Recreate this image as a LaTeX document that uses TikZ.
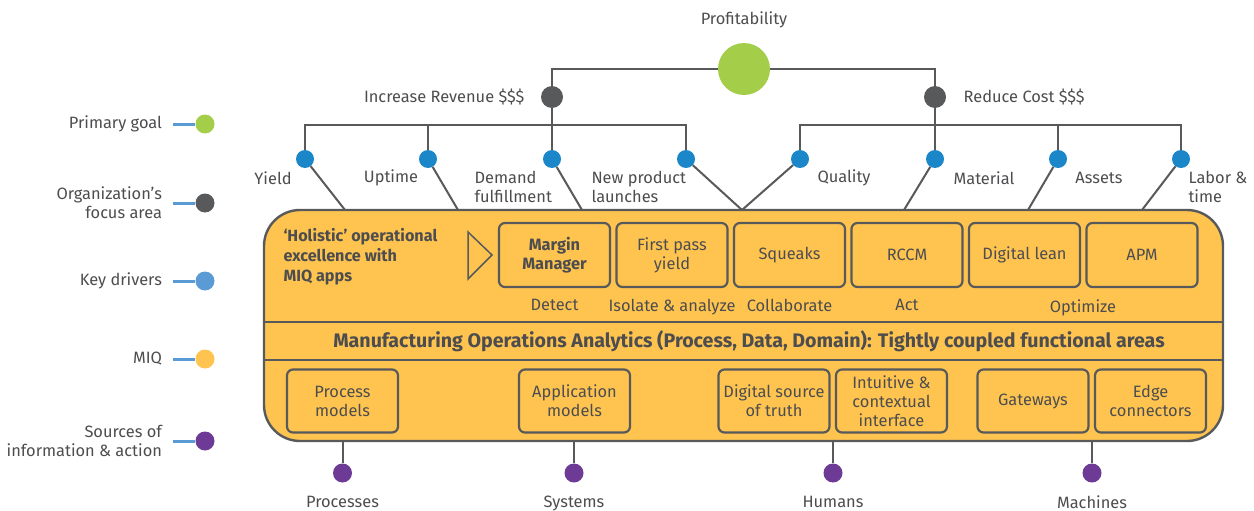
\documentclass[tikz,border=0pt]{standalone}
\usepackage{fontspec}
\setmainfont{Fira Sans}
\usepackage{xcolor}
\usetikzlibrary{positioning}

\definecolor{miqyellow}{HTML}{FEC44F}
\definecolor{darkedge}{HTML}{58595B}
\definecolor{inktext}{HTML}{4D4D4F}
\definecolor{goalgreen}{HTML}{A4CD4A}
\definecolor{driverblue}{HTML}{1B87C9}
\definecolor{keyblue}{HTML}{5B9BD5}
\definecolor{srcpurple}{HTML}{6D3A96}

\tikzset{
 dot/.style={circle,inner sep=0pt,minimum size=#1},
 wire/.style={draw=darkedge,line width=2pt},
 keyline/.style={draw=keyblue,line width=3pt},
 appbox/.style={draw=darkedge,rounded corners=6pt,line width=2.2pt,minimum width=111pt,minimum height=64pt,align=center,inner sep=2pt},
}

\begin{document}
\begin{tikzpicture}[x=1pt,y=-1pt,every node/.style={text=inktext,font=\fontsize{16.4}{19}\selectfont}]
\useasboundingbox (0,0) rectangle (1254,511);

% MIQ block
\draw[draw=darkedge,fill=miqyellow,line width=2.4pt,rounded corners=36pt] (264,210) rectangle (1223,441);
\draw[wire] (264,322) -- (1223,322);
\draw[wire] (264,360) -- (1223,360);

\node[font=\bfseries\fontsize{16.2}{20}\selectfont,align=left,anchor=west] (holistic) at (280,257) {‘Holistic’ operational\\excellence with\\MIQ apps};
\draw[darkedge,line width=1.5pt] (468,232) -- (492,255) -- (468,279) -- cycle;

% apps
\foreach \n/\t [count=\i from 0] in {mm/{\textbf{Margin}\\\textbf{Manager}},fpy/{First pass\\yield},squeaks/Squeaks,rccm/RCCM,dlean/Digital lean,apm/APM}
 \node[appbox] (\n) at (554.5+117.5*\i,255) {\t};

\node[below=8pt of mm] (detect) {Detect};
\node[below=8pt of fpy] (isolate) {Isolate \& analyze};
\node[below=8pt of squeaks] (collab) {Collaborate};
\node[below=8pt of rccm] (act) {Act};
\node[below=8pt of dlean,xshift=58.5pt] (optimize) {Optimize};

\node[font=\bfseries\fontsize{19.6}{22}\selectfont] (moa) at (749,341) {Manufacturing Operations Analytics (Process, Data, Domain): Tightly coupled functional areas};

% functional areas
\foreach \n/\x/\t in {procm/342.5/{Process\\models},appm/574.5/{Application\\models},dsot/774/{Digital source\\of truth},intui/891.5/{Intuitive \&\\contextual\\interface},gate/1033/Gateways,edgec/1150.5/{Edge\\connectors}}
 \node[appbox,minimum height=63pt] (\n) at (\x,401) {\t};

% goal tree
\node[dot=52pt,fill=goalgreen] (profit) at (744,69) {};
\path (profit) ++(0,-49) node (profittxt) {Profitability};
\node[dot=22pt,fill=darkedge] (rev) at (552,97) {};
\node[dot=22pt,fill=darkedge] (cost) at (935,97) {};
\node[left=13pt of rev] (revtxt) {Increase Revenue \$\$\$};
\node[right=14pt of cost] (costtxt) {Reduce Cost \$\$\$};
\draw[wire] (profit) -| (rev);
\draw[wire] (profit) -| (cost);

\foreach \n/\x in {yield/305,uptime/428,demand/552,launch/686,quality/800,material/935,assets/1058,labor/1181}
 \node[dot=18pt,fill=driverblue] (\n) at (\x,159) {};
\coordinate (revbar) at (552,125);
\coordinate (costbar) at (935,125);
\draw[wire] (yield) |- (revbar) -| (launch);
\draw[wire] (uptime) |- (revbar);
\draw[wire] (rev) -- (demand);
\draw[wire] (quality) |- (costbar) -| (labor);
\draw[wire] (assets) |- (costbar);
\draw[wire] (cost) -- (material);

\foreach \n/\x in {yield/345,uptime/458,demand/582,launch/742,quality/742,material/904,assets/1028,labor/1142}
 { \coordinate (\n-in) at (\x,210); \draw[wire] (\n) -- (\n-in); }

\path (yield) ++(-32,19) node (yieldtxt) {Yield};
\path (uptime) ++(-37,19) node (uptimetxt) {Uptime};
\path (demand) ++(-81,28) node[anchor=west,align=left] (demandtxt) {Demand\\fulfillment};
\path (launch) ++(-98,28) node[anchor=west,align=left] (launchtxt) {New product\\launches};
\path (quality) ++(44,19) node (qualitytxt) {Quality};
\path (material) ++(49,19) node (materialtxt) {Material};
\path (assets) ++(41,19) node (assetstxt) {Assets};
\path (labor) ++(4,28) node[anchor=west,align=left] (labortxt) {Labor \&\\time};

% sources
\foreach \n/\x/\t in {processes/342.5/Processes,systems/574/Systems,humans/833/Humans,machines/1092/Machines}
 { \node[dot=19pt,fill=srcpurple] (\n) at (\x,473) {};
   \coordinate (\n-out) at (\x,441);
   \draw[wire] (\n-out) -- (\n);
   \node[below=9.5pt of \n] (\n-txt) {\t}; }

% legend
\foreach \y/\c/\t [count=\i] in {124/goalgreen/Primary goal,203/darkedge/{Organization’s\\focus area},281/keyblue/Key drivers,359/miqyellow/MIQ,441/srcpurple/{Sources of\\information \& action}}
 { \node[dot=19pt,fill=\c] (key\i) at (205,\y) {};
   \coordinate (keyend\i) at (173,\y);
   \draw[keyline] (keyend\i) -- (key\i);
   \node[left=7.5pt of keyend\i,align=right] (keytxt\i) {\t}; }

\end{tikzpicture}
\end{document}
